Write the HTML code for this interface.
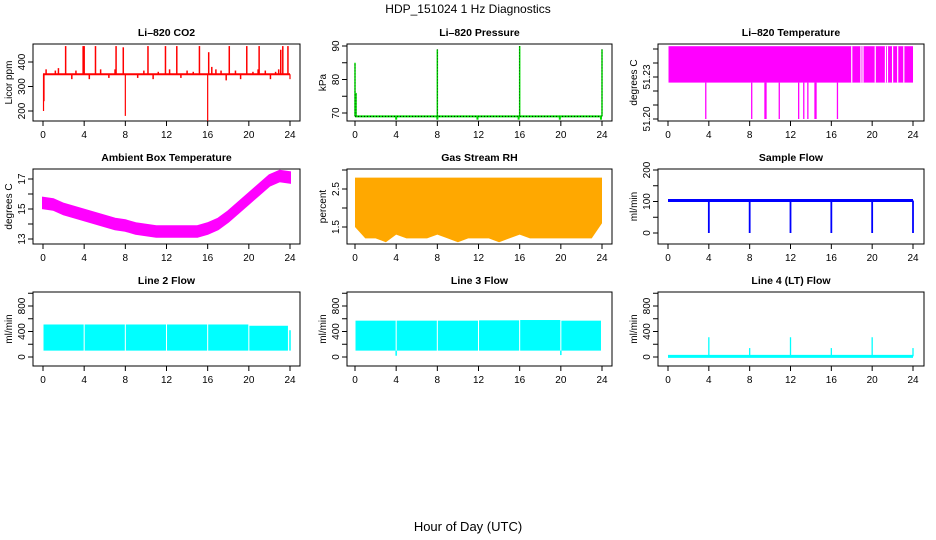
<!DOCTYPE html>
<html><head><meta charset="utf-8"><style>
html,body{margin:0;padding:0;background:#fff;}
svg{display:block;font-family:"Liberation Sans",sans-serif;}
</style></head><body>
<svg id="chart" width="936" height="540" viewBox="0 0 936 540" xmlns="http://www.w3.org/2000/svg">
<text x="468" y="13" text-anchor="middle" font-size="12">HDP_151024  1 Hz Diagnostics</text>
<text x="468" y="531" text-anchor="middle" font-size="13">Hour of Day (UTC)</text>
</svg>
<script>
// ---- data ----
const xTicks = [0,4,8,12,16,20,24];
const co2Base = 350;
const co2SpikeHours = [2.2,3.9,4.0,5.1,7.1,7.8,10.2,11.9,13.0,15.2,16.1,18.1,19.8,21.0,23.1,23.3,23.8];
const co2SpikeValues = [465,465,465,465,465,460,465,465,465,465,440,465,465,465,450,465,465];
const co2DipHours = [0.05,0.1,8.0,16.0,24.0];
const co2DipValues = [200,240,180,160,330];
const co2SmallHours = [0.3,1.2,1.5,2.8,3.2,4.5,5.6,6.4,7.0,9.2,9.8,10.7,11.2,12.3,13.4,14.0,14.6,16.4,16.8,17.3,17.8,18.7,19.2,20.4,20.9,21.6,22.1,22.6,22.9];
const co2SmallValues = [370,365,375,330,365,330,370,335,370,335,365,330,360,370,335,365,360,380,370,365,325,365,330,360,370,365,330,360,370];
const presBase = 69;
const presSpikeHours = [0.0,0.1,8.0,16.0,24.0];
const presSpikeValues = [85,76,89,90,89];
const presDipHours = [4.0,8.0,11.9,15.9,19.9,23.9];
const presDipValues = [68,68,68,68,68,68];
const tempTop = 51.252, tempBottom = 51.226;
const tempGapHours = [18.0,18.9,19.1,20.3,21.3,21.5,22.0,22.5,23.1];
const tempDownHours = [3.7,8.2,9.5,9.6,10.9,12.8,13.3,13.7,14.4,14.5,16.6];
const ambHours = [0,1,2,3,4,5,6,7,8,9,10,11,12,13,14,15,16,17,18,19,20,21,22,23,24];
const ambValues = [15.4,15.3,15.0,14.8,14.6,14.4,14.2,14.0,13.9,13.7,13.6,13.5,13.5,13.5,13.5,13.5,13.7,14.0,14.5,15.1,15.7,16.3,16.9,17.2,17.1];
const rhTop = 2.8;
const rhHours = [0,1,2,3,4,5,6,7,8,9,10,11,12,13,14,15,16,17,18,19,20,21,22,23,24];
const rhBottom = [1.5,1.2,1.2,1.1,1.3,1.2,1.2,1.2,1.3,1.2,1.1,1.2,1.2,1.2,1.1,1.2,1.3,1.2,1.2,1.2,1.2,1.2,1.2,1.2,1.6];
const flowBase = 103;
const flowDipHours = [4,8,12,16,20,24];
const flowDipValues = [0,0,0,0,0,0];
const l2Low = 100;
const l2SegStart = [0.05,4.05,8.05,12.05,16.05,20.05];
const l2SegEnd = [3.95,7.95,11.95,15.95,19.95,23.8];
const l2SegTop = [510,510,510,510,510,490];
const l3Low = 100;
const l3SegStart = [0.05,4.05,8.05,12.05,16.05,20.05];
const l3SegEnd = [3.95,7.95,11.95,15.95,19.95,23.9];
const l3SegTop = [570,570,570,575,580,570];
const l4SpikeHours = [4,8,12,16,20,24];
const l4SpikeValues = [310,140,310,140,310,140];

// ---- geometry ----
const svg = document.getElementById('chart');
const NS = 'http://www.w3.org/2000/svg';
const cols = [{l:33,r:300,x0:43,x24:290},{l:347,r:612,x0:355,x24:602},{l:658,r:924,x0:668,x24:913}];
const rows = [{t:44,b:121},{t:169,b:244},{t:292,b:366}];
function mk(tag, attrs, parent){const e=document.createElementNS(NS,tag);for(const k in attrs)e.setAttribute(k,attrs[k]);(parent||svg).appendChild(e);return e;}
function xs(c){return h=>c.x0+(c.x24-c.x0)*h/24;}
function ys(v1,p1,v2,p2){return v=>p1+(v-v1)*(p2-p1)/(v2-v1);}

function panel(name,title,ylab,ci,ri,y,yTicks,yLabels){
  const c=cols[ci], r=rows[ri], x=xs(c);
  const g=mk('g',{});
  
  
  const t=mk('text',{x:(c.l+c.r)/2,y:r.t-8,'text-anchor':'middle','font-size':'10.5','font-weight':'bold'},g);
  t.textContent=title;
  
  
  const box=mk('rect',{x:c.l,y:r.t,width:c.r-c.l,height:r.b-r.t,fill:'none',stroke:'#000','stroke-width':1},g);
  
  
  const xa=mk('g',{},g);
  
  
  mk('line',{x1:x(0),x2:x(24),y1:r.b,y2:r.b,stroke:'#000'},xa);
  xTicks.forEach(h=>{
    mk('line',{x1:x(h),x2:x(h),y1:r.b,y2:r.b+5,stroke:'#000'},xa);
    const tl=mk('text',{x:x(h),y:r.b+17,'text-anchor':'middle','font-size':'10'},xa);
    tl.textContent=h;
    
    
  });
  const ya=mk('g',{},g);
  
  
  mk('line',{x1:c.l,x2:c.l,y1:y(yTicks[0]),y2:y(yTicks[yTicks.length-1]),stroke:'#000'},ya);
  yTicks.forEach(v=>mk('line',{x1:c.l-5,x2:c.l,y1:y(v),y2:y(v),stroke:'#000'},ya));
  yLabels.forEach(v=>{
    const tl=mk('text',{x:c.l-8,y:y(v),'text-anchor':'middle','font-size':'10',transform:`rotate(-90 ${c.l-8} ${y(v)})`},ya);
    tl.textContent=v;
    
    
  });
  const yl=mk('text',{x:c.l-21,y:(r.t+r.b)/2,'text-anchor':'middle','font-size':'10',transform:`rotate(-90 ${c.l-21} ${(r.t+r.b)/2})`},g);
  yl.textContent=ylab;
  
  
  const s=mk('g',{},g);
  
  
  return {x,y,g:s};
}
function vline(p,h,v1,v2,col,w){return mk('line',{x1:p.x(h),x2:p.x(h),y1:p.y(v1),y2:p.y(v2),stroke:col,'stroke-width':w||1},p.g);}

// CO2
let p=panel('co2','Li\u2013820 CO2','Licor ppm',0,0,ys(200,111,400,62),[200,300,400],[200,300,400]);
mk('line',{x1:p.x(0),x2:p.x(24),y1:p.y(co2Base),y2:p.y(co2Base),stroke:'#ff0000','stroke-width':2},p.g);
co2SmallHours.forEach((h,i)=>{vline(p,h,co2Base,co2SmallValues[i],'#ff0000',1.5);});
co2SpikeHours.forEach((h,i)=>{vline(p,h,co2Base,co2SpikeValues[i],'#ff0000',1.5);});
co2DipHours.forEach((h,i)=>{vline(p,h,co2Base,co2DipValues[i],'#ff0000',1.2);});

// Pressure
p=panel('pressure','Li\u2013820 Pressure','kPa',1,0,ys(70,113,90,46),[70,75,80,85,90],[70,80,90]);
mk('line',{x1:p.x(0),x2:p.x(24),y1:p.y(presBase),y2:p.y(presBase),stroke:'#00dd00','stroke-width':2},p.g);
mk('line',{x1:p.x(0),x2:p.x(24),y1:p.y(presBase),y2:p.y(presBase),stroke:'#000','stroke-width':1,'stroke-dasharray':'1 2'},p.g);
presSpikeHours.forEach((h,i)=>{vline(p,h,presBase,presSpikeValues[i],'#00dd00',1.5);vline(p,h,presBase,presSpikeValues[i],'#000',0.6).setAttribute('stroke-dasharray','1 2');});
presDipHours.forEach((h,i)=>{vline(p,h,presBase,presDipValues[i],'#00dd00',2);});

// Temperature
p=panel('li820-temp','Li\u2013820 Temperature','degrees C',2,0,ys(51.20,119,51.23,77),[51.20,51.21,51.22,51.23,51.24,51.25],['51.20','51.23']);
mk('rect',{x:p.x(0.05),y:p.y(tempTop),width:p.x(24)-p.x(0.05),height:p.y(tempBottom)-p.y(tempTop),fill:'#ff00ff'},p.g);
tempGapHours.forEach(h=>vline(p,h,tempBottom,tempTop,'#ffffff',1.2));
tempDownHours.forEach(h=>vline(p,h,51.20,tempBottom,'#ff00ff',1.3));

// Ambient
p=panel('ambient-temp','Ambient Box Temperature','degrees C',0,1,ys(13,239,17,179),[13,14,15,16,17],[13,15,17]);
{let pts=ambHours.map((h,i)=>`${p.x(h)},${p.y(ambValues[i]+0.35)}`).concat(ambHours.slice().reverse().map((h,j)=>{const i=ambHours.length-1-j;return `${p.x(h)},${p.y(ambValues[i]-0.35)}`;}));
 mk('polygon',{points:pts.join(' '),fill:'#ff00ff',stroke:'#ff00ff','stroke-width':2},p.g);}

// RH
p=panel('gas-rh','Gas Stream RH','percent',1,1,ys(1.5,227,2.5,189),[1.5,2.0,2.5,3.0],['1.5','2.5']);
{let pts=[`${p.x(0)},${p.y(rhTop)}`,`${p.x(24)},${p.y(rhTop)}`].concat(rhHours.slice().reverse().map((h,j)=>{const i=rhHours.length-1-j;return `${p.x(h)},${p.y(rhBottom[i])}`;}));
 mk('polygon',{points:pts.join(' '),fill:'#ffa800'},p.g);}

// Sample flow
p=panel('sample-flow','Sample Flow','ml/min',2,1,ys(0,233,200,170),[0,50,100,150,200],[0,100,200]);
mk('line',{x1:p.x(0),x2:p.x(24),y1:p.y(flowBase),y2:p.y(flowBase),stroke:'#0000ff','stroke-width':3},p.g);
flowDipHours.forEach((h,i)=>vline(p,h,flowBase,flowDipValues[i],'#0000ff',1.8));

// Line 2
p=panel('line2-flow','Line 2 Flow','ml/min',0,2,ys(0,357,800,306),[0,200,400,600,800,1000],[0,400,800]);
l2SegStart.forEach((s,i)=>mk('rect',{x:p.x(s),y:p.y(l2SegTop[i]),width:p.x(l2SegEnd[i])-p.x(s),height:p.y(l2Low)-p.y(l2SegTop[i]),fill:'#00ffff'},p.g));
vline(p,24,100,420,'#00ffff',1.5);

// Line 3
p=panel('line3-flow','Line 3 Flow','ml/min',1,2,ys(0,357,800,306),[0,200,400,600,800,1000],[0,400,800]);
l3SegStart.forEach((s,i)=>mk('rect',{x:p.x(s),y:p.y(l3SegTop[i]),width:p.x(l3SegEnd[i])-p.x(s),height:p.y(l3Low)-p.y(l3SegTop[i]),fill:'#00ffff'},p.g));
vline(p,4,100,20,'#00ffff',1.5);vline(p,20,100,30,'#00ffff',1.5);

// Line 4
p=panel('line4-flow','Line 4 (LT) Flow','ml/min',2,2,ys(0,357,800,306),[0,200,400,600,800,1000],[0,400,800]);
mk('line',{x1:p.x(0),x2:p.x(24),y1:p.y(10),y2:p.y(10),stroke:'#00ffff','stroke-width':3},p.g);
l4SpikeHours.forEach((h,i)=>vline(p,h,10,l4SpikeValues[i],'#00ffff',1.3));
</script>
</body></html>
